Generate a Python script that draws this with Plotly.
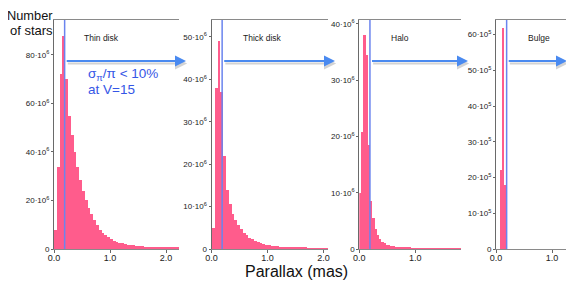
import numpy as np
import plotly.graph_objects as go

# ---------------- data ----------------
panel_names = ["Thin disk", "Thick disk", "Halo", "Bulge"]

# star counts per parallax bin (millions)
thin_bin_start, thin_bin_width = 0.0, 0.05
thin_counts = [8, 34, 72, 88, 70, 55, 47, 40, 34, 28.5, 24, 20, 17, 14.5, 12, 10,
               8, 6.8, 5.8, 4.9, 4.1, 3.5, 3.0, 2.6, 2.3, 2.0, 1.8, 1.6, 1.45, 1.3, 1.2,
               1.1, 1.0, 0.92, 0.85, 0.78, 0.72, 0.66, 0.62, 0.58, 0.54, 0.5, 0.47, 0.44, 0.42]

thick_bin_start, thick_bin_width = 0.0, 0.05
thick_counts = [5, 38, 49, 37, 22, 14, 10.5, 8.3, 6.8, 5.6, 4.6, 3.8, 3.2, 2.7, 2.3, 1.9,
                1.65, 1.4, 1.2, 1.05, 0.9, 0.8, 0.7, 0.6, 0.55, 0.5, 0.45, 0.4, 0.37, 0.34,
                0.31, 0.28, 0.26, 0.24, 0.22, 0.2, 0.19, 0.18, 0.17, 0.16, 0.15, 0.14]

halo_bin_start, halo_bin_width = 0.0, 0.04
halo_counts = [10, 20.8, 38, 34.5, 18.5, 8.5, 5.5, 3.6, 2.5, 1.8, 1.3, 1.0, 0.8, 0.65, 0.55,
               0.45, 0.4, 0.35, 0.3, 0.27, 0.24, 0.21, 0.19, 0.17, 0.15, 0.14, 0.13, 0.12,
               0.11, 0.1, 0.1, 0.09, 0.09, 0.08, 0.08, 0.07, 0.07, 0.07, 0.06, 0.06, 0.06,
               0.05, 0.05, 0.05, 0.05, 0.05]

bulge_bin_start, bulge_bin_width = 0.07, 0.04
bulge_counts = [2.2, 6.2, 1.8]

parallax_limit = 0.19   # sigma_pi/pi < 10% at V=15

# y ticks (millions) and labels
thin_yticks = [0, 20, 40, 60, 80]
thick_yticks = [0, 10, 20, 30, 40, 50]
halo_yticks = [0, 10, 20, 30, 40]
bulge_yticks = [0, 1, 2, 3, 4, 5, 6]
bulge_ytick_labels = ["0", "10", "20", "30", "40", "50", "60"]
x_tick_sets = [[0, 1, 2], [0, 1, 2], [0, 1], [0, 1]]

# ---------------- layout geometry (reference pixels) ----------------
PAGE_W, PAGE_H = 574, 281
OFF = 8                      # default body margin of the html page
W, H = PAGE_W - OFF, PAGE_H - OFF
PX_PER_UNIT = 56.0
panel_left = [54, 211.5, 359.3, 496]
panel_right = [179, 328, 461, 566]
y_top_px, y_bot_px = 20, 249
y_max = [94.4e6, 54.0e6, 40.7e6, 6.41e6]
arrow_tip_px = [186, 335, 468, 567]

def fx(px):
    return (px - OFF) / W

def fy(py):
    return 1 - (py - OFF) / H

PINK = "#FF5C8C"
VLINE = "#6A84EE"
ARROW = "#4A8AF0"
FONT = "Liberation Sans, Arial, sans-serif"

fig = go.Figure()

datasets = [
    (thin_bin_start, thin_bin_width, thin_counts),
    (thick_bin_start, thick_bin_width, thick_counts),
    (halo_bin_start, halo_bin_width, halo_counts),
    (bulge_bin_start, bulge_bin_width, bulge_counts),
]

sup = lambda e: "·10<sup>%d</sup>" % e
ytick_specs = [
    (thin_yticks, ["0"] + [f"{v}" + sup(6) for v in thin_yticks[1:]]),
    (thick_yticks, ["0"] + [f"{v}" + sup(6) for v in thick_yticks[1:]]),
    (halo_yticks, ["0"] + [f"{v}" + sup(6) for v in halo_yticks[1:]]),
    (bulge_yticks, ["0"] + [f"{v}" + sup(5) for v in bulge_ytick_labels[1:]]),
]

annotations = []
shapes = []
for i, (start, bw, counts) in enumerate(datasets):
    n = i + 1
    xa = "x" if n == 1 else f"x{n}"
    ya = "y" if n == 1 else f"y{n}"
    centers = start + bw * (np.arange(len(counts)) + 0.5)
    fig.add_trace(go.Bar(x=centers, y=np.array(counts) * 1e6, width=bw,
                         marker=dict(color=PINK, line=dict(width=0)),
                         xaxis=xa, yaxis=ya, showlegend=False, hoverinfo="skip"))
    xr = (panel_right[i] - panel_left[i]) / PX_PER_UNIT
    tv, tt = ytick_specs[i]
    xkey = "xaxis" if n == 1 else f"xaxis{n}"
    ykey = "yaxis" if n == 1 else f"yaxis{n}"
    fig.update_layout(**{
        xkey: dict(domain=[fx(panel_left[i]), fx(panel_right[i])], range=[0, xr],
                   anchor=ya, automargin=False, showline=True, linecolor="#8a8a8a",
                   linewidth=1, mirror=True, showgrid=False, zeroline=False,
                   ticks="outside", ticklen=3, tickcolor="#666", ticklabelstandoff=-3,
                   tickvals=x_tick_sets[i], ticktext=[f"{v:.1f}" for v in x_tick_sets[i]],
                   tickfont=dict(family=FONT, size=9, color="#222")),
        ykey: dict(domain=[fy(y_bot_px), fy(y_top_px)], range=[0, y_max[i]],
                   anchor=xa, automargin=False, showline=True, linecolor="#6a6a6a",
                   linewidth=1, showgrid=False, zeroline=False, ticks="outside",
                   ticklen=2, tickcolor="#666", tickvals=[v * 1e6 for v in tv],
                   ticktext=tt, tickfont=dict(family=FONT, size=8, color="#222")),
    })
    # vertical parallax-limit line
    shapes.append(dict(type="line", xref=xa, yref=f"{ya} domain",
                       x0=parallax_limit, x1=parallax_limit, y0=0, y1=1,
                       line=dict(color=VLINE, width=1.5)))
    # arrow with drop shadow
    tip = (arrow_tip_px[i] - panel_left[i]) / PX_PER_UNIT
    ay_dom = (y_bot_px - 61) / (y_bot_px - y_top_px)
    sh = 2.5 / (y_bot_px - y_top_px)
    annotations.append(dict(xref=xa, yref=f"{ya} domain", axref=xa, ayref=f"{ya} domain",
                            x=tip + 0.02, y=ay_dom - sh, ax=parallax_limit + 0.03, ay=ay_dom - sh,
                            text="", showarrow=True, arrowhead=2, arrowsize=1.1,
                            arrowwidth=2.2, arrowcolor="rgba(60,60,60,0.22)", standoff=0))
    annotations.append(dict(xref=xa, yref=f"{ya} domain", axref=xa, ayref=f"{ya} domain",
                            x=tip, y=ay_dom, ax=parallax_limit + 0.01, ay=ay_dom,
                            text="", showarrow=True, arrowhead=2, arrowsize=1.1,
                            arrowwidth=2, arrowcolor=ARROW, standoff=0))

# panel titles
title_pos = [(102, 38), (262, 38), (400, 38), (539, 38)]
for name, (px, py) in zip(panel_names, title_pos):
    annotations.append(dict(xref="paper", yref="paper", x=fx(px), y=fy(py), text=name,
                            showarrow=False, xanchor="center", yanchor="middle",
                            font=dict(family=FONT, size=8.5, color="#222")))

# axis titles
annotations.append(dict(xref="paper", yref="paper", x=fx(53.5), y=fy(15.5), text="Number",
                        showarrow=False, xanchor="right", yanchor="middle", borderpad=0,
                        font=dict(family=FONT, size=12.8, color="#111")))
annotations.append(dict(xref="paper", yref="paper", x=fx(53.5), y=fy(30.5), text="of stars",
                        showarrow=False, xanchor="right", yanchor="middle", borderpad=0,
                        font=dict(family=FONT, size=13, color="#111")))
annotations.append(dict(xref="paper", yref="paper", x=fx(296), y=fy(271), text="Parallax (mas)",
                        showarrow=False, xanchor="center", yanchor="middle", borderpad=0,
                        font=dict(family=FONT, size=16, color="#111")))

# blue condition text
annotations.append(dict(xref="paper", yref="paper", x=fx(86), y=fy(74),
                        text="σ<sub>π</sub>/π &lt; 10%", showarrow=False,
                        xanchor="left", yanchor="middle",
                        font=dict(family=FONT, size=13.5, color="#3556E6")))
annotations.append(dict(xref="paper", yref="paper", x=fx(86), y=fy(89),
                        text="at V=15", showarrow=False,
                        xanchor="left", yanchor="middle",
                        font=dict(family=FONT, size=13.5, color="#3556E6")))

fig.update_layout(width=W, height=H, autosize=False,
                  margin=dict(l=0, r=0, t=0, b=0, autoexpand=False),
                  paper_bgcolor="white", plot_bgcolor="white",
                  bargap=0, annotations=annotations, shapes=shapes)

fig.write_html("out.html")
